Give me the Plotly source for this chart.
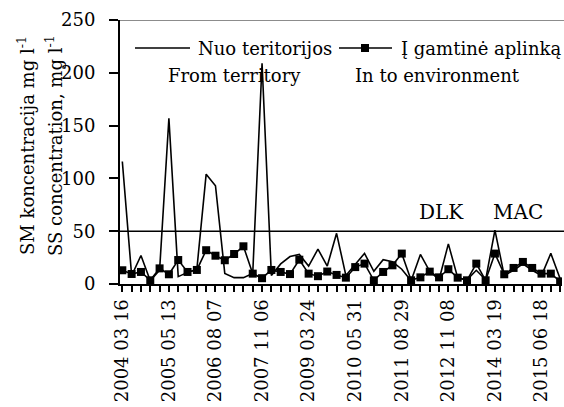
import plotly.graph_objects as go

# ---- data ----
tick_labels = ["2004 03 16", "2005 05 13", "2006 08 07", "2007 11 06", "2009 03 24",
               "2010 05 31", "2011 08 29", "2012 11 08", "2014 03 19", "2015 06 18"]
label_every = 5

from_territory = [116, 8, 27, 3, 13, 157, 7, 11, 14, 104,
                  93, 10, 6, 6, 10, 209, 8, 19, 26, 28,
                  17, 33, 17, 48, 8, 18, 29, 12, 23, 21,
                  14, 3, 28, 12, 4, 38, 6, 4, 13, 4,
                  51, 8, 13, 19, 13, 8, 29, 5]
to_environment = [13, 9.5, 11.4, 3.5, 14.8, 9.2, 22.7, 11.4, 13.3, 32,
                  26.8, 22.5, 28.4, 35.7, 9.8, 5.5, 13.3, 11.4, 9.4, 23,
                  9.8, 7.4, 11.8, 8.6, 6, 16, 19.3, 3.5, 11.4, 17.7,
                  28.8, 3.5, 6.3, 11.7, 6.3, 14, 6, 3.5, 19.3, 3.5,
                  28.8, 9.2, 15.2, 20.9, 15.2, 9.8, 9.8, 2.5]
limit = 50
y_max = 250

name_terr = "Nuo teritorijos"
name_terr_en = "From territory"
name_env = "Į gamtinė aplinką"
name_env_en = "In to environment"

FONT = "DejaVu Serif"

n = len(from_territory)
x = list(range(n))
label_pos = list(range(0, n, label_every))[:len(tick_labels)]

fig = go.Figure()
fig.add_trace(go.Scatter(x=x, y=from_territory, mode="lines", name=name_terr,
                         line=dict(color="black", width=1.6), showlegend=False))
fig.add_trace(go.Scatter(x=x, y=to_environment, mode="lines+markers", name=name_env,
                         line=dict(color="black", width=1.6),
                         marker=dict(symbol="square", size=8, color="black"),
                         showlegend=False))

W, H = 564, 407
L, R, T, B = 120, 2, 20, 123
pw, ph = W - L - R, H - T - B

def px(xp):
    return (xp - L) / pw

def py(yp):
    return 1 - (yp - T) / ph

shapes = [
    dict(type="line", xref="paper", yref="y", x0=0, x1=(W - L) / pw, y0=y_max, y1=y_max,
         line=dict(color="#8c8c8c", width=2)),
    dict(type="line", xref="paper", yref="y", x0=0, x1=(W - L) / pw, y0=limit, y1=limit,
         line=dict(color="black", width=1.6)),
    # legend samples
    dict(type="line", xref="paper", yref="paper", x0=px(135), x1=px(190), y0=py(48), y1=py(48),
         line=dict(color="black", width=1.6)),
    dict(type="line", xref="paper", yref="paper", x0=px(339), x1=px(392), y0=py(48), y1=py(48),
         line=dict(color="black", width=1.6)),
    dict(type="rect", xref="paper", yref="paper", x0=px(361), x1=px(369), y0=py(44), y1=py(52),
         fillcolor="black", line=dict(width=0)),
]

ann = [
    dict(text=name_terr, x=px(196), y=py(48), xanchor="left", yanchor="middle"),
    dict(text=name_terr_en, x=px(234), y=py(75), xanchor="center", yanchor="middle"),
    dict(text=name_env, x=px(399), y=py(48), xanchor="left", yanchor="middle"),
    dict(text=name_env_en, x=px(437), y=py(75), xanchor="center", yanchor="middle"),
    dict(text="DLK", x=px(441), y=py(212), xanchor="center", yanchor="middle"),
    dict(text="MAC", x=px(518), y=py(212), xanchor="center", yanchor="middle"),
    dict(text="SM koncentracija mg l<sup>-1</sup>", x=px(26), y=py(146), textangle=-90,
         xanchor="center", yanchor="middle"),
    dict(text="SS concentration, mg l<sup>-1</sup>", x=px(54), y=py(146), textangle=-90,
         xanchor="center", yanchor="middle"),
]
for a in ann:
    a.update(xref="paper", yref="paper", showarrow=False,
             font=dict(family=FONT, size=18, color="black"))
ann[4]["font"]["size"] = 20
ann[5]["font"]["size"] = 20

fig.update_layout(
    width=W, height=H,
    margin=dict(l=L, r=R, t=T, b=B, pad=0),
    paper_bgcolor="white", plot_bgcolor="white",
    font=dict(family=FONT, size=18, color="black"),
    shapes=shapes, annotations=ann,
    showlegend=False,
)
fig.update_xaxes(range=[-0.25, n - 1 + 0.2], tickvals=label_pos, ticktext=tick_labels,
                 tickangle=-90, ticks="outside", ticklen=6, tickwidth=1.5, tickcolor="black",
                 minor=dict(dtick=1, tick0=0, ticks="outside", ticklen=6, tickwidth=1.5,
                            tickcolor="black", showgrid=False),
                 showline=True, linecolor="black", linewidth=2, showgrid=False, zeroline=False,
                 tickfont=dict(family=FONT, size=18, color="black"))
fig.update_yaxes(range=[0, y_max], tickvals=[0, 50, 100, 150, 200, 250],
                 ticks="outside", ticklen=9, tickwidth=1.5, tickcolor="black",
                 showline=True, linecolor="black", linewidth=2, showgrid=False, zeroline=False,
                 ticklabelstandoff=10, tickfont=dict(family=FONT, size=18, color="black"))

fig.write_html("out.html")
